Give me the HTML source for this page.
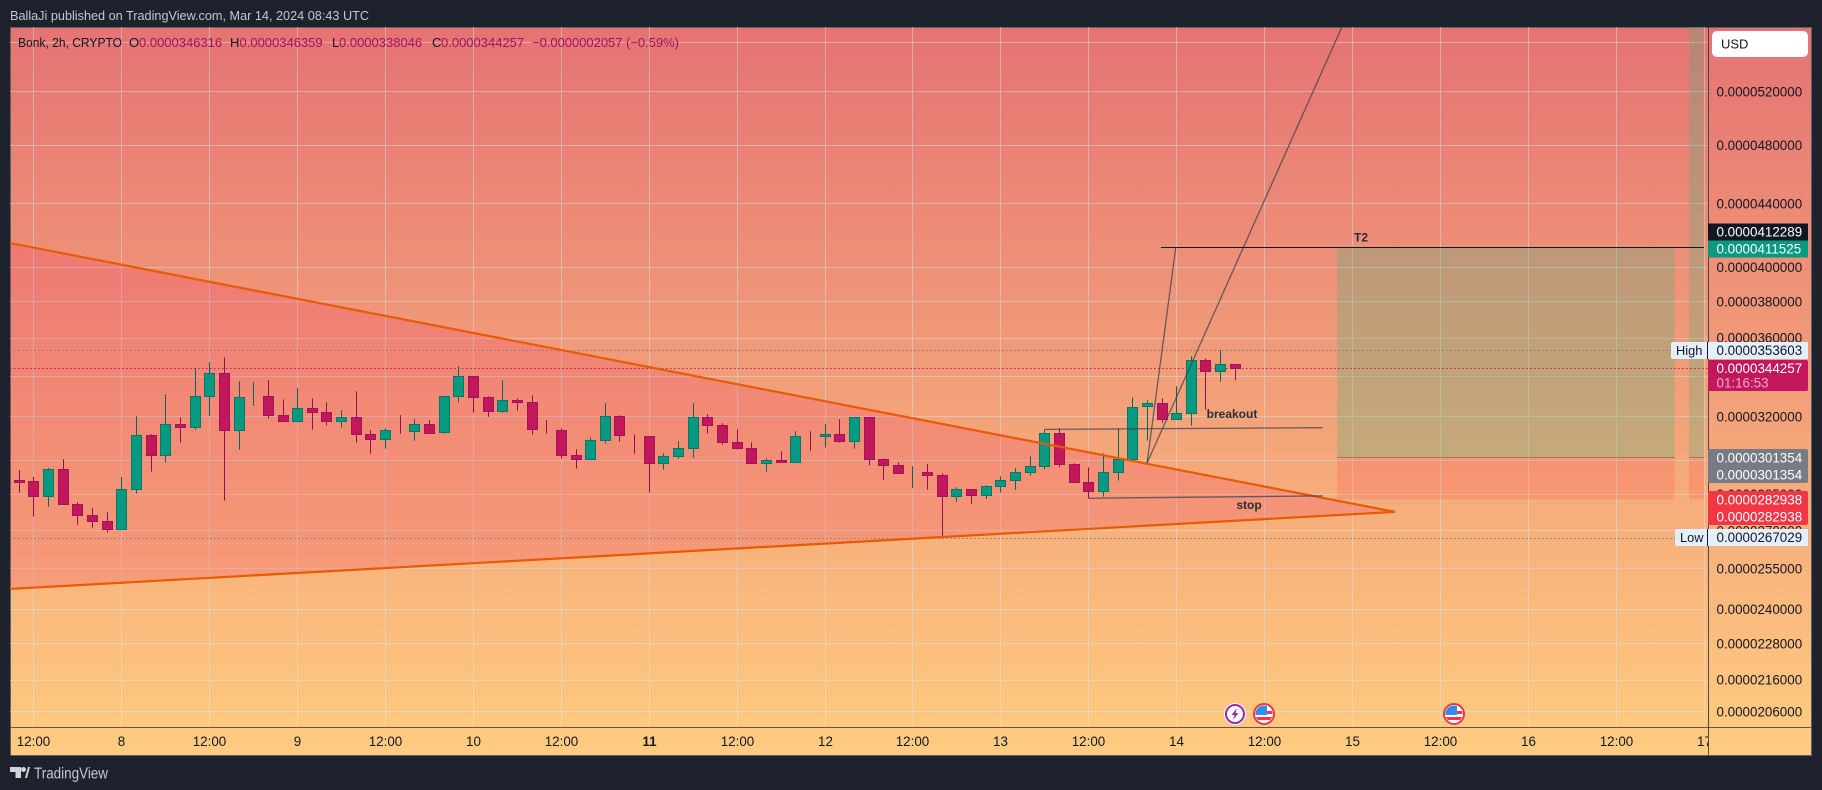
<!DOCTYPE html>
<html lang="en">
<head>
<meta charset="utf-8">
<title>Bonk 2h chart</title>
<style>
html,body{margin:0;padding:0;background:#1e222d;width:1822px;height:790px;overflow:hidden}
svg{display:block;font-family:"Liberation Sans",Arial,sans-serif}
</style>
</head>
<body>
<svg id="chart" xmlns="http://www.w3.org/2000/svg" width="1822" height="790" viewBox="0 0 1822 790">
  <defs>
    <linearGradient id="bgGrad" x1="0" y1="0" x2="0" y2="1">
      <stop offset="0" stop-color="#e57373"/>
      <stop offset="1" stop-color="#ffcc80"/>
    </linearGradient>
    <clipPath id="plotClip"><rect x="10" y="27" width="1698" height="700"/></clipPath>
    <clipPath id="timeClip"><rect x="10" y="728" width="1698" height="27"/></clipPath>
    <clipPath id="flagClip"><circle cx="0" cy="0" r="8.5"/></clipPath>
  </defs>
  <rect width="1822" height="790" fill="#1e222d"/>
  <text x="10" y="20" font-size="13" fill="#c4c7d0" textLength="359" lengthAdjust="spacingAndGlyphs">BallaJi published on TradingView.com, Mar 14, 2024 08:43 UTC</text>
  <rect x="10.5" y="27.5" width="1801" height="728" fill="url(#bgGrad)" stroke="#5d606b" stroke-width="1"/>
  <g id="grid" clip-path="url(#plotClip)"></g>
  <g id="drawingsBack" clip-path="url(#plotClip)"></g>
  <g id="priceLines" clip-path="url(#plotClip)"></g>
  <g id="candles" clip-path="url(#plotClip)"></g>
  <g id="drawingsFront" clip-path="url(#plotClip)"></g>
  <text x="1361" y="241.5" font-size="12" font-weight="700" fill="#2a2e39" text-anchor="middle">T2</text>
  <text x="1232" y="418" font-size="12" font-weight="700" fill="#2a2e39" text-anchor="middle">breakout</text>
  <text x="1249" y="509" font-size="12" font-weight="700" fill="#2a2e39" text-anchor="middle">stop</text>

  <g font-size="13">
    <text x="18" y="47" fill="#131722" textLength="104" lengthAdjust="spacingAndGlyphs">Bonk, 2h, CRYPTO</text>
    <text x="129" y="47" fill="#131722">O</text>
    <text x="139" y="47" fill="#a3125e">0.0000346316</text>
    <text x="230" y="47" fill="#131722">H</text>
    <text x="239.500" y="47" fill="#a3125e">0.0000346359</text>
    <text x="332" y="47" fill="#131722">L</text>
    <text x="339" y="47" fill="#a3125e">0.0000338046</text>
    <text x="432" y="47" fill="#131722">C</text>
    <text x="441" y="47" fill="#a3125e">0.0000344257</text>
    <text x="532" y="47" fill="#a3125e" textLength="147" lengthAdjust="spacingAndGlyphs">−0.0000002057 (−0.59%)</text>
  </g>

  <g id="events">
    <g transform="translate(1235,714)">
      <circle r="11" fill="#ffffff"/>
      <circle r="9" fill="#ffffff" stroke="#9c27b0" stroke-width="2"/>
      <polygon points="2,-6 -3.500,1 -0.500,1 -2,6 3.500,-1 0.500,-1" fill="#9c27b0"/>
    </g>
    <g transform="translate(1264,714)">
      <circle r="10" fill="#ffffff" stroke="#f23645" stroke-width="2"/>
      <g clip-path="url(#flagClip)">
        <rect x="-9" y="-9" width="18" height="18" fill="#ffffff"/>
        <rect x="-9" y="-3" width="18" height="3" fill="#f23645"/>
        <rect x="-9" y="3" width="18" height="3" fill="#f23645"/>
        <rect x="-9" y="-9" width="12" height="10" fill="#2f8fe8"/>
      </g>
    </g>
    <g transform="translate(1454,714)">
      <circle r="10" fill="#ffffff" stroke="#f23645" stroke-width="2"/>
      <g clip-path="url(#flagClip)">
        <rect x="-9" y="-9" width="18" height="18" fill="#ffffff"/>
        <rect x="-9" y="-3" width="18" height="3" fill="#f23645"/>
        <rect x="-9" y="3" width="18" height="3" fill="#f23645"/>
        <rect x="-9" y="-9" width="12" height="10" fill="#2f8fe8"/>
      </g>
    </g>
  </g>

  <line x1="10" y1="727.500" x2="1811" y2="727.500" stroke="#46383a" stroke-opacity=".8"/>
  <line x1="1708.500" y1="27" x2="1708.500" y2="755" stroke="#46383a" stroke-opacity=".9"/>
  <g id="priceAxis" font-size="13.400" fill="#131722"></g>
  <g id="timeAxis" font-size="13.400" fill="#131722" clip-path="url(#timeClip)" text-anchor="middle"></g>

  <g>
    <rect x="1712" y="31" width="96" height="26" rx="5" fill="#ffffff"/>
    <text x="1721" y="48.500" font-size="13" fill="#131722">USD</text>
  </g>

  <g id="tags" font-size="13.400">
    <rect x="1708" y="223.500" width="100" height="17" fill="#131722"/>
    <text x="1716.500" y="236.500" fill="#ffffff">0.0000412289</text>
    <rect x="1708" y="240.500" width="100" height="17" fill="#089981"/>
    <text x="1716.500" y="253.500" fill="#ffffff">0.0000411525</text>

    <rect x="1671" y="342" width="37" height="17" rx="2" fill="#e3effd"/>
    <text x="1676" y="355" font-size="12.800" fill="#131722">High</text>
    <rect x="1708" y="342" width="100" height="17" fill="#e3effd"/>
    <line x1="1707.500" y1="342" x2="1707.500" y2="359" stroke="#131722"/>
    <text x="1716.500" y="355" fill="#131722">0.0000353603</text>

    <rect x="1708" y="360" width="100" height="31" rx="2" fill="#c2185b"/>
    <text x="1716.500" y="373" fill="#ffffff">0.0000344257</text>
    <text x="1716.500" y="387.500" fill="#ffffff" fill-opacity=".65">01:16:53</text>

    <rect x="1708" y="449" width="100" height="34" rx="2" fill="#787b86"/>
    <text x="1716.500" y="462.500" fill="#ffffff">0.0000301354</text>
    <text x="1716.500" y="479.500" fill="#ffffff">0.0000301354</text>

    <rect x="1708" y="491" width="100" height="34" rx="2" fill="#f23645"/>
    <text x="1716.500" y="504.500" fill="#ffffff">0.0000282938</text>
    <text x="1716.500" y="521.500" fill="#ffffff">0.0000282938</text>

    <rect x="1675" y="529" width="33" height="17" rx="2" fill="#e3effd"/>
    <text x="1680" y="542" font-size="12.800" fill="#131722">Low</text>
    <rect x="1708" y="529" width="100" height="17" fill="#e3effd"/>
    <line x1="1707.500" y1="529" x2="1707.500" y2="546" stroke="#131722"/>
    <text x="1716.500" y="542" fill="#131722">0.0000267029</text>
  </g>

  <g>
    <polygon points="10,767 21,767 21,778 15.500,778 15.500,772 10,772" fill="#d1d4dc"/>
    <circle cx="23.500" cy="769.500" r="2.500" fill="#d1d4dc"/>
    <polygon points="25,778 28,767 30,767 27,778" fill="#d1d4dc"/>
    <text x="34" y="778.500" font-size="15.500" fill="#c4c7d0" textLength="74" lengthAdjust="spacingAndGlyphs">TradingView</text>
  </g>
</svg>
<script>
// Prices are in units of 0.0000001 USD.
const candleOpen = [291.1,290.7,284.2,295.9,280.9,276.3,273.8,270.6,287.2,311.3,302.0,316.5,315.1,330.0,341.5,313.7,329.9,330.0,320.8,317.9,324.1,322.2,317.9,319.8,311.8,309.5,313.7,313.2,316.5,312.7,330.0,340.0,329.5,322.7,328.0,327.1,314.1,313.7,302.2,300.4,309.0,320.3,311.3,310.9,298.6,301.7,305.4,319.8,316.0,308.1,305.4,298.6,299.9,299.0,310.9,310.9,311.8,308.5,319.8,300.4,297.7,294.4,294.6,293.3,284.2,287.2,284.6,288.5,291.1,294.6,297.3,312.3,298.2,290.2,286.4,294.6,300.4,325.1,326.6,318.9,321.8,348.2,342.6,346.316];
const candleHigh = [295.6,292.6,296.5,300.4,281.7,279.3,277.5,292.6,320.3,311.8,331.0,319.8,344.1,347.2,349.8,337.5,337.0,338.0,328.5,334.0,329.0,327.1,323.2,332.5,313.7,314.6,320.8,318.9,318.4,330.0,345.1,340.0,330.0,338.0,329.0,330.5,318.4,314.6,304.9,310.4,326.6,320.8,311.7,310.9,303.1,308.5,326.6,321.3,317.0,314.1,308.1,300.8,304.0,313.2,313.2,316.5,318.9,319.8,319.8,300.8,299.0,297.3,298.2,294.2,288.1,287.2,288.9,292.8,296.4,301.7,314.1,314.6,298.6,296.8,303.1,314.6,329.5,328.0,329.0,335.0,350.3,349.2,353.603,346.359];
const candleLow = [285.8,275.7,279.9,280.9,272.4,271.2,269.2,270.6,285.4,294.9,298.9,308.0,314.0,320.5,282.4,304.8,325.4,319.2,317.9,317.9,314.0,315.9,315.0,308.0,302.9,305.2,312.1,308.9,312.3,312.1,326.9,322.0,320.1,322.0,323.0,311.7,312.1,300.7,296.2,300.4,307.5,308.4,302.9,285.8,295.8,300.7,301.1,312.1,307.0,304.8,298.6,294.9,298.9,299.0,304.3,305.7,308.0,305.2,297.6,291.4,294.1,287.9,287.1,267.03,281.8,280.9,283.1,285.8,287.1,293.1,295.9,296.8,290.2,283.4,284.1,291.0,299.5,308.9,317.3,318.9,315.9,323.5,337.3,338.046];
const candleClose = [290.1,284.2,295.9,280.9,276.3,273.8,270.6,287.2,311.3,302.0,316.5,315.1,330.0,341.5,313.7,329.5,330.0,320.8,317.9,324.1,322.2,317.9,319.8,311.8,309.5,313.7,313.5,316.5,312.3,330.0,340.0,329.5,322.7,328.0,327.1,314.1,314.0,302.2,300.4,309.0,320.3,311.3,311.2,298.6,301.7,305.4,319.8,316.0,308.1,305.4,298.6,299.9,299.0,310.9,310.7,311.8,308.5,319.8,300.4,297.7,294.15,294.6,293.3,284.2,287.2,284.6,288.5,291.1,294.6,297.3,312.3,298.2,290.2,286.4,294.6,300.4,324.6,326.6,318.9,321.8,348.2,342.6,346.3,344.257];

const priceGrid = [560,520,480,440,400,380,360,340,320,300,285,270,255,240,228,216,206];
const timeLabels = ['12:00','8','12:00','9','12:00','10','12:00','11','12:00','12','12:00','13','12:00','14','12:00','15','12:00','16','12:00','17'];
const boldTimeLabels = ['11'];

const lastPrice = 344.257;
const highPrice = 353.603;
const lowPrice = 267.029;
const targetPrice = 412.289;
const entryPrice = 301.354;
const stopPrice = 282.938;

// Drawings, as [bar index, price] anchors.
const triangleUpper = [-0.635,414.9];
const triangleLower = [-0.635,247.5];
const triangleApex = [93.9,277.7];
const breakoutLine = [[70.0,314.1],[88.97,314.9]];
const stopLine = [[72.97,283.4],[88.97,284.4]];
const forecastStart = [76.98,298.7];
const forecastFast = [78.94,412.289];
const forecastSlow = [90.28,572.9];
const t2Line = [77.93,115];
const zoneMain = [89.95,113.0];
const zoneSide = [113.97,115];

function xOf(i){ return 19.3 + 14.65*i; }
function yOf(p){ return 368 + 669.6*Math.log(lastPrice/p); }
function snap(v){ return Math.round(v-0.5)+0.5; }

const NS = 'http://www.w3.org/2000/svg';
function mk(tag, attrs, parent){
  const n = document.createElementNS(NS, tag);
  for(const k in attrs){ n.setAttribute(k, attrs[k]); }
  parent.appendChild(n);
  return n;
}
const gGrid = document.getElementById('grid');
const gBack = document.getElementById('drawingsBack');
const gLines = document.getElementById('priceLines');
const gCandles = document.getElementById('candles');
const gFront = document.getElementById('drawingsFront');
const gPrice = document.getElementById('priceAxis');
const gTime = document.getElementById('timeAxis');

const GRID = 'rgba(205,232,242,.45)';

// grid + price axis labels
priceGrid.forEach(function(p){
  const y = snap(yOf(p));
  const gl = mk('line',{x1:10,x2:1708,y1:y,y2:y,stroke:GRID}, gGrid);
  
  
  const t = mk('text',{x:1716.5,y:yOf(p)+4.6}, gPrice);
  
  
  t.textContent = '0.0000' + String(p*1000);
});

// time grid + labels (a tick every 6 two-hour bars)
timeLabels.forEach(function(lab,k){
  const x = snap(xOf(1+6*k));
  const gl = mk('line',{x1:x,x2:x,y1:27,y2:727,stroke:GRID}, gGrid);
  
  
  const attrs = {x:x,y:746};
  if(boldTimeLabels.indexOf(lab)>=0){ attrs['font-weight']='700'; }
  const t = mk('text',attrs,gTime);
  
  
  t.textContent = lab;
});

// triangle
const tri = [triangleUpper,triangleApex,triangleLower].map(function(a){ return xOf(a[0]).toFixed(1)+','+yOf(a[1]).toFixed(1); }).join(' ');
const triFill = mk('polygon',{points:tri,fill:'rgba(238,35,100,.18)',stroke:'none'}, gBack);



// long-position zones
[zoneMain,zoneSide].forEach(function(z,idx){
  const x1 = xOf(z[0]), x2 = xOf(z[1]);
  const yE = yOf(entryPrice), yS = yOf(stopPrice);
  const yT = idx===0 ? yOf(targetPrice) : 27;
  const prof = mk('rect',{x:x1,y:yT,width:x2-x1,height:yE-yT,fill:'rgba(87,174,124,.3)'}, gBack);
  
  
  const loss = mk('rect',{x:x1,y:yE,width:x2-x1,height:yS-yE,rx:2,fill:'rgba(255,37,70,.15)'}, gBack);
  
  
  const el = mk('line',{x1:x1,x2:x2,y1:snap(yE),y2:snap(yE),stroke:'rgba(90,80,80,.45)'}, gBack);
  
  
});

// current price / high / low lines
const hl = mk('line',{x1:10,x2:1671,y1:snap(yOf(highPrice)),y2:snap(yOf(highPrice)),stroke:'#787b86','stroke-dasharray':'1.5 2.5'}, gLines);


const ll = mk('line',{x1:10,x2:1675,y1:snap(yOf(lowPrice)),y2:snap(yOf(lowPrice)),stroke:'#787b86','stroke-dasharray':'1.5 2.5'}, gLines);


const cl = mk('line',{x1:10,x2:1708,y1:snap(yOf(lastPrice)),y2:snap(yOf(lastPrice)),stroke:'#c2185b','stroke-dasharray':'1.5 2.5'}, gLines);



// candles
candleOpen.forEach(function(o,i){
  const c = candleClose[i], h = candleHigh[i], l = candleLow[i];
  const up = c >= o;
  const x = snap(xOf(i));
  const g = mk('g',{}, gCandles);
  
  
  const w = mk('line',{x1:x,x2:x,y1:yOf(h),y2:yOf(l),stroke:up?'#00695c':'#8e1055','stroke-width':1}, g);
  
  
  const yTop = snap(yOf(Math.max(o,c)));
  const yBot = snap(yOf(Math.min(o,c)));
  const b = mk('rect',{x:x-5,y:yTop,width:10,height:Math.max(0,yBot-yTop),fill:up?'#089981':'#c2185b',stroke:up?'#00796b':'#a3125e','stroke-width':1}, g);
  
  
});

// drawings in front of the candles
function seg(a,b,style,parent){
  const attrs = Object.assign({x1:xOf(a[0]),y1:yOf(a[1]),x2:xOf(b[0]),y2:yOf(b[1])},style);
  return mk('line',attrs,parent);
}
const ORANGE = {stroke:'#e85a04','stroke-width':2.2};
const triTop = seg(triangleUpper,triangleApex,ORANGE,gFront);


const triBot = seg(triangleLower,triangleApex,ORANGE,gFront);



const THIN = {stroke:'#3f4250','stroke-opacity':.75,'stroke-width':1.3};
const bl = seg(breakoutLine[0],breakoutLine[1],THIN,gFront);


const sl = seg(stopLine[0],stopLine[1],THIN,gFront);


const f1 = seg(forecastStart,forecastFast,THIN,gFront);


const f2 = seg(forecastStart,forecastSlow,THIN,gFront);


const t2 = mk('line',{x1:xOf(t2Line[0]),x2:xOf(t2Line[1]),y1:snap(yOf(targetPrice)),y2:snap(yOf(targetPrice)),stroke:'#131722','stroke-width':1}, gFront);


</script>
</body>
</html>
